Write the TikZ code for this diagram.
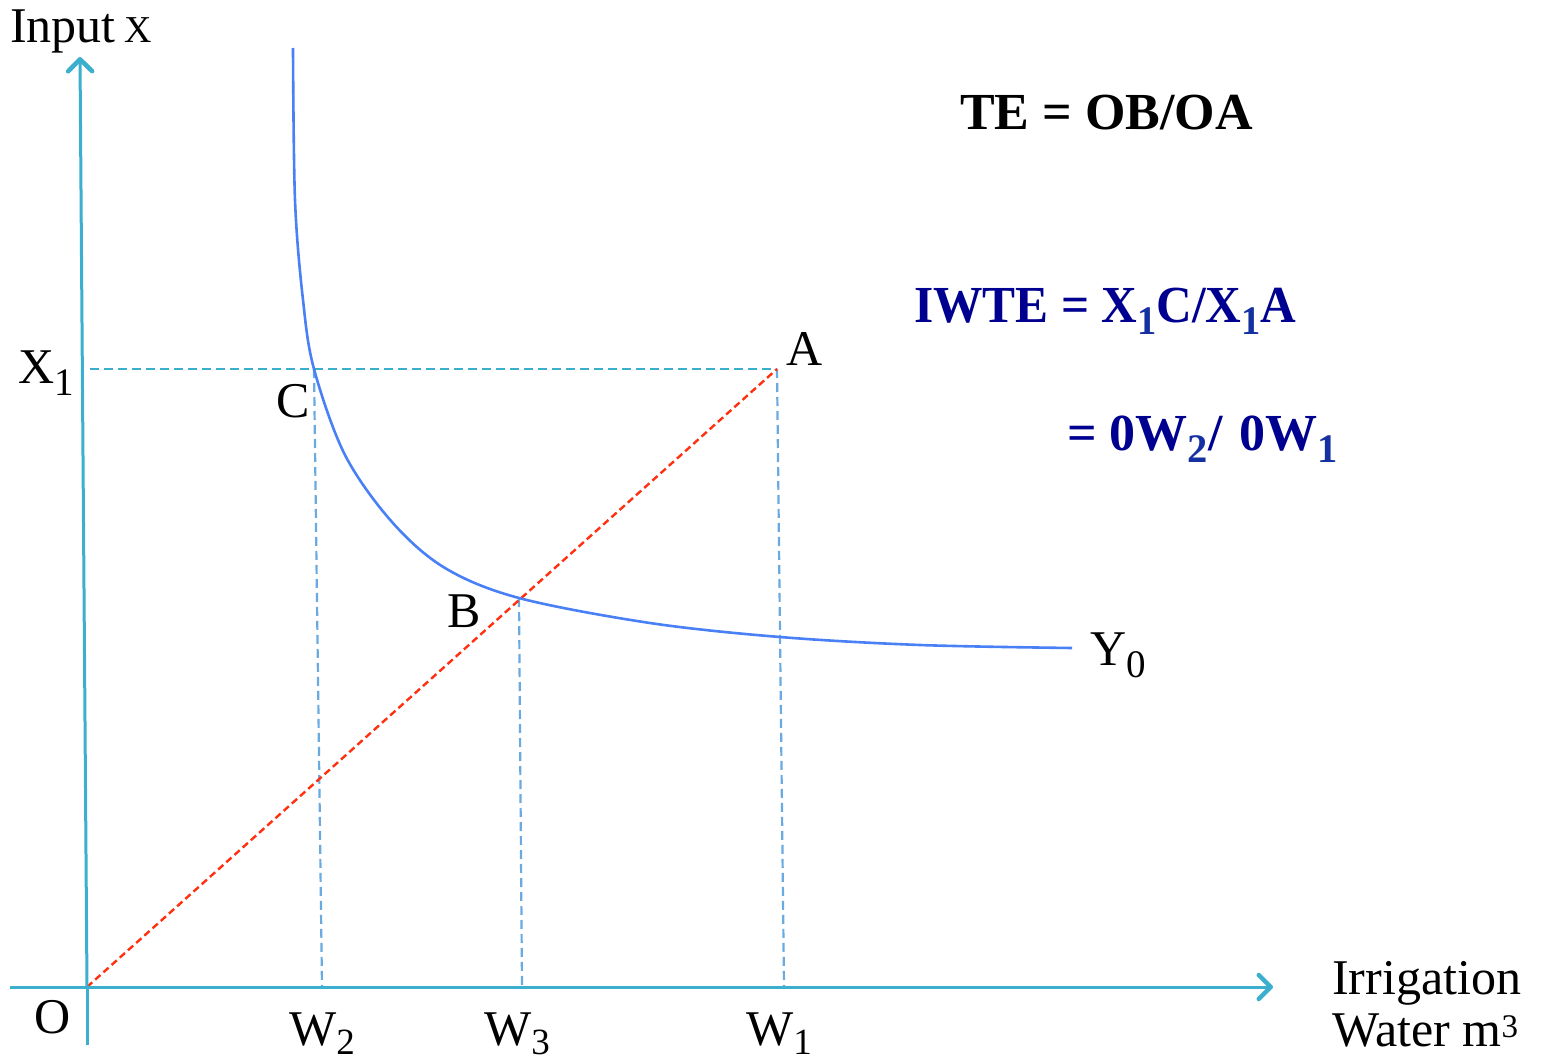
\documentclass[tikz,border=0pt]{standalone}
\usepackage{fontspec}
\usepackage{graphicx}
\setmainfont{Liberation Serif}
\usetikzlibrary{arrows.meta}
\definecolor{axisc}{HTML}{3BAFCD}
\definecolor{curvec}{HTML}{4A80F5}
\definecolor{dashv}{HTML}{6AAAE0}
\definecolor{dashh}{HTML}{3AAFCB}
\definecolor{redd}{HTML}{FF3010}
\definecolor{navyc}{HTML}{000090}
\definecolor{subc}{HTML}{1530A0}
\newcommand\lsub[1]{\raisebox{-0.24em}{\scalebox{0.78}{#1}}}
\newcommand\wsub[1]{\raisebox{-0.18em}{\scalebox{0.74}{#1}}}
\newcommand\usup[1]{\raisebox{0.17em}{\scalebox{0.66}{#1}}}
\begin{document}
\begin{tikzpicture}[x=1pt,y=-1pt,
  lab/.style={inner sep=0pt, anchor=base west, font=\fontsize{50}{60}\selectfont},
  formula/.style={inner sep=0pt, anchor=base west, font=\fontsize{52}{64}\selectfont\bfseries},
  axisline/.style={draw=axisc, line width=3pt, line cap=round, -{Straight Barb[length=12pt,width=24pt,line width=4.5pt,round]}},
  axisplain/.style={draw=axisc, line width=3pt},
  vdash/.style={draw=dashv, line width=2.2pt, dash pattern=on 9pt off 5pt},
  hdash/.style={draw=dashh, line width=2.2pt, dash pattern=on 9pt off 5pt},
  rdash/.style={draw=redd, line width=2.4pt, dash pattern=on 7pt off 4pt},
  curve/.style={draw=curvec, line width=2.6pt}]
\useasboundingbox (0,0) rectangle (1550,1062);
% key points
\coordinate (O) at (87,987);
\coordinate (ytop) at (80,57);
\coordinate (ybot) at (87,1045);
\coordinate (xl) at (10,987);
\coordinate (xr) at (1273,987);
\coordinate (A) at (777,369);
\coordinate (X1) at (90,369);
\coordinate (C) at (314,369);
\coordinate (B) at (519,598);
\coordinate (W2) at (322,987);
\coordinate (W3) at (522,987);
\coordinate (W1) at (784,987);
% dashed guide lines
\draw[hdash] (X1) -- (A);
\draw[vdash] (C) -- (W2);
\draw[vdash] (B) -- (W3);
\draw[vdash] (A) -- (W1);
\draw[rdash] (O) -- (A);
% isoquant
\draw[curve] plot[smooth, tension=0.55] coordinates {(293,48) (295,200) (303,300) (314,369) (345,455) (392,522) (445,568) (519,598) (650,623) (780,637) (920,645) (1072,648)};
% axes
\draw[axisplain] (xl) -- (O);
\draw[axisline] (O) -- (xr);
\draw[axisplain] (ybot) -- (O);
\draw[axisline] (O) -- (ytop);
% labels
\node[lab] (inp) at (10,43) {Input\,{\fontsize{38}{44}\selectfont X}};
\node[lab] (lx1) at (18,383) {X\lsub{1}};
\node[lab] (lc) at (276,417) {C};
\node[lab] (la) at (786,365) {A};
\node[lab] (lb) at (447,627) {B};
\node[lab] (ly0) at (1090,665) {Y\lsub{0}};
\node[lab] (lo) at (34,1033) {O};
\node[lab] (lw2) at (289,1045) {W\wsub{2}};
\node[lab] (lw3) at (484,1045) {W\wsub{3}};
\node[lab] (lw1) at (746,1045) {W\wsub{1}};
\node[lab] (irr) at (1332,994) {Irrigation};
\node[lab] (wat) at (1332,1046) {Water m\usup{3}};
% formulas
\node[formula] (te) at (960,130) {TE = OB/OA};
\node[formula, text=navyc] (iwte) at (914,322) {\scalebox{0.95}[1]{IWTE = X{\color{subc}\lsub{1}}C/X{\color{subc}\lsub{1}}A}};
\node[formula, text=navyc] (ow) at (1067,450) {= 0W{\color{subc}\lsub{2}}/\,\,0W{\color{subc}\lsub{1}}};
\end{tikzpicture}
\end{document}
